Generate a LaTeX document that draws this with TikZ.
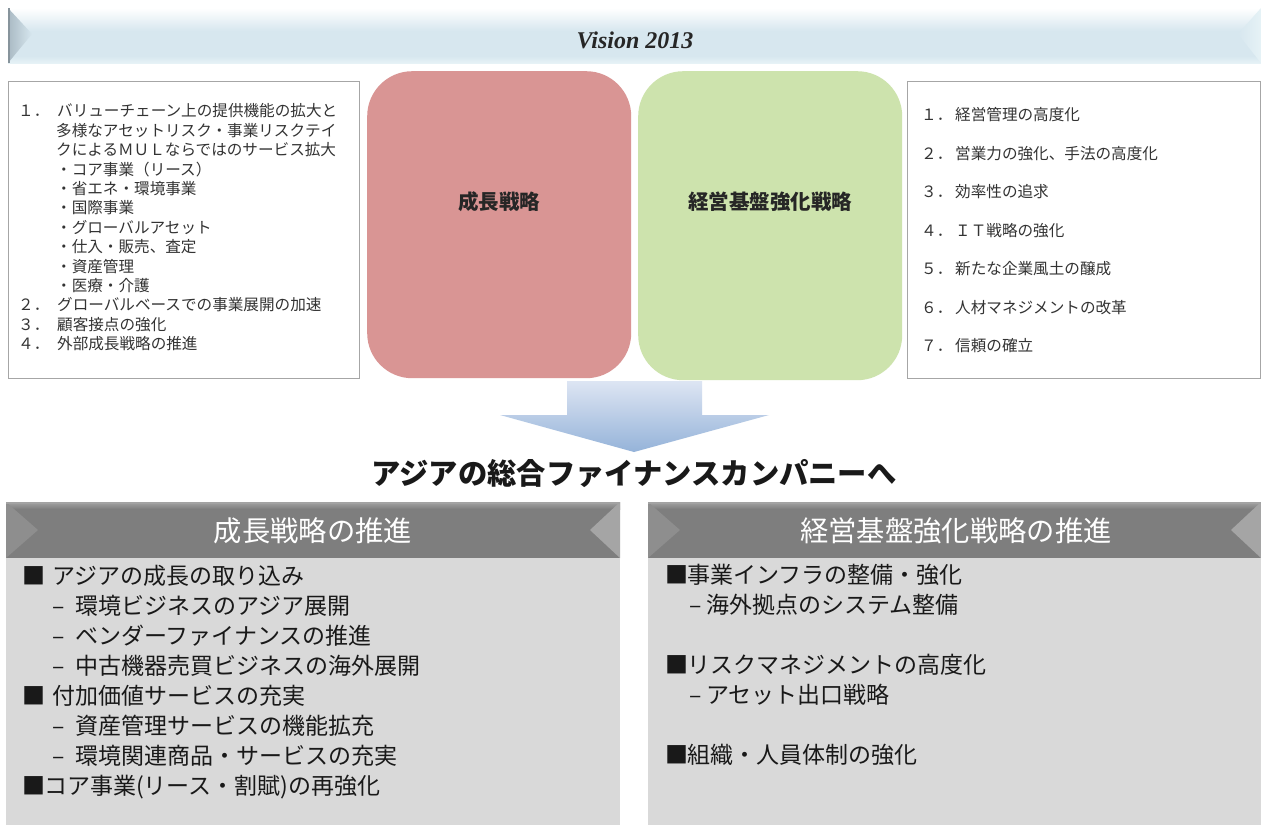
\documentclass[tikz,border=0pt]{standalone}
\usepackage{fontspec}
\setmainfont{Noto Sans CJK JP}
\newfontfamily\visfont{Liberation Serif}
\definecolor{bannerblue}{HTML}{D7E7EF}
\definecolor{bannerdark}{HTML}{A9B9C3}
\definecolor{bannerlight}{HTML}{E6F2F6}
\definecolor{redbox}{HTML}{D99594}
\definecolor{greenbox}{HTML}{CDE3AD}
\definecolor{boxborder}{HTML}{A6A6A6}
\definecolor{txtgray}{HTML}{333333}
\definecolor{arrowtop}{HTML}{DDE5F3}
\definecolor{arrowbot}{HTML}{95B3D9}
\definecolor{hdrgray}{HTML}{7E7E7E}
\definecolor{hdrlight}{HTML}{A3A3A3}
\definecolor{panelgray}{HTML}{D9D9D9}
\newcommand{\numA}[1]{\makebox[39pt][l]{#1}}
\newcommand{\indA}{\hspace*{38pt}}
\newcommand{\numB}[1]{\makebox[34pt][l]{#1}}
\newcommand{\sqA}{\makebox[30pt][l]{■}}
\newcommand{\sqB}{\makebox[22pt][l]{■}}
\newcommand{\dashA}{\hspace*{30pt}\makebox[23pt][l]{–}}
\newcommand{\dashB}{\hspace*{24pt}\makebox[17pt][l]{–}}
\begin{document}
\begin{tikzpicture}[x=1pt,y=-1pt,
  line/.style={anchor=west, inner sep=0pt, text height=0.88em, text depth=0.12em},
  topline/.style={line, font=\fontsize{15.6}{18}\selectfont, text=txtgray},
  botline/.style={line, font=\fontsize{23}{28}\selectfont, text=black!90},
  textbox/.style={draw=boxborder, line width=1.2pt, fill=white, anchor=north west, inner sep=0pt},
  stratbox/.style={rounded corners=45pt, anchor=north west, inner sep=0pt},
  strattext/.style={font=\fontsize{20.5}{24}\selectfont\bfseries, text=black!85},
  hdrtext/.style={font=\fontsize{28.3}{32}\selectfont, text=white},
  panel/.style={fill=panelgray, draw=none, anchor=north west, inner sep=0pt}]
\useasboundingbox (0,0) rectangle (1261,825);
\fill[white] (0,0) rectangle (1261,825);

% banner
\fill[bannerblue] (8,8) rectangle (1261,63);
\shade[top color=white, bottom color=bannerblue] (8,8) rectangle (1261,31);
\shade[top color=bannerblue, bottom color=bannerlight] (8,56) rectangle (1261,63);
\shade[left color=bannerdark, right color=bannerblue] (8,8) -- (32,34) -- (8,63) -- cycle;
\fill[bannerdark!80!black] (8,8) rectangle (10,63);
\shade[right color=bannerlight, left color=bannerblue] (1261,8) -- (1238,34) -- (1261,63) -- cycle;
\node[font=\visfont\fontsize{24}{28}\selectfont\bfseries\itshape, text=black!85] (vision) at (635,40) {Vision 2013};

% top boxes
\node[textbox, minimum width=351pt, minimum height=297pt] (lbox) at (8,81) {};
\node[textbox, minimum width=353pt, minimum height=297pt] (rbox) at (907,81) {};
\node[stratbox, fill=redbox, minimum width=264pt, minimum height=307pt] (growth) at (367,71) {};
\node[stratbox, fill=greenbox, minimum width=264pt, minimum height=309pt] (base) at (638,71) {};
\node[strattext] (growthT) at (499,202) {成長戦略};
\node[strattext] (baseT) at (770,202) {経営基盤強化戦略};

\foreach \t [count=\i] in {
 {\numA{１．}バリューチェーン上の提供機能の拡大と},
 {\indA 多様なアセットリスク・事業リスクテイ},
 {\indA クによるＭＵＬならではのサービス拡大},
 {\indA ・コア事業（リース）},
 {\indA ・省エネ・環境事業},
 {\indA ・国際事業},
 {\indA ・グローバルアセット},
 {\indA ・仕入・販売、査定},
 {\indA ・資産管理},
 {\indA ・医療・介護},
 {\numA{２．}グローバルベースでの事業展開の加速},
 {\numA{３．}顧客接点の強化},
 {\numA{４．}外部成長戦略の推進}}
 \node[topline] (L\i) at (18,{113+(\i-1)*19.4}) {\t};

\foreach \t [count=\i] in {
 {\numB{１．}経営管理の高度化},
 {\numB{２．}営業力の強化、手法の高度化},
 {\numB{３．}効率性の追求},
 {\numB{４．}ＩＴ戦略の強化},
 {\numB{５．}新たな企業風土の醸成},
 {\numB{６．}人材マネジメントの改革},
 {\numB{７．}信頼の確立}}
 \node[topline] (R\i) at (921,{117+(\i-1)*38.5}) {\t};

% arrow
\shade[top color=arrowtop, bottom color=arrowbot]
  (567,381) -- (702,381) -- (702,415) -- (769,415) -- (634,452) -- (500,415) -- (567,415) -- cycle;

\node[font=\fontsize{29.3}{34}\selectfont\bfseries, text=black!90] (goal) at (634,474) {アジアの総合ファイナンスカンパニーへ};

% bottom headers and panels
\foreach \xa/\xb in {6/620, 648/1261}{
  \fill[hdrgray] (\xa,502) rectangle (\xb,558);
  \shade[top color=hdrlight, bottom color=hdrgray] (\xa,502) rectangle (\xb,509);
  \fill[hdrgray!88!white] (\xa,502) -- ({\xa+32},530) -- (\xa,558) -- cycle;
  \fill[hdrgray!70!white] (\xb,502) -- ({\xb-30},530) -- (\xb,558) -- cycle;
  \fill[hdrlight] (\xa,502) rectangle (\xb,503.5);
}
\node[panel, minimum width=614pt, minimum height=267pt] (lpanel) at (6,558) {};
\node[panel, minimum width=613pt, minimum height=267pt] (rpanel) at (648,558) {};
\node[hdrtext] (lhdr) at (313,531) {成長戦略の推進};
\node[hdrtext] (rhdr) at (956,531) {経営基盤強化戦略の推進};

\foreach \t [count=\i] in {
 {\sqA アジアの成長の取り込み},
 {\dashA 環境ビジネスのアジア展開},
 {\dashA ベンダーファイナンスの推進},
 {\dashA 中古機器売買ビジネスの海外展開},
 {\sqA 付加価値サービスの充実},
 {\dashA 資産管理サービスの機能拡充},
 {\dashA 環境関連商品・サービスの充実},
 {\sqB コア事業(リース・割賦)の再強化}}
 \node[botline] (B\i) at (22,{581+(\i-1)*30}) {\t};

\node[botline] (C1) at (665,580) {\sqB 事業インフラの整備・強化};
\node[botline] (C2) at (665,610) {\dashB 海外拠点のシステム整備};
\node[botline] (C3) at (665,670) {\sqB リスクマネジメントの高度化};
\node[botline] (C4) at (665,700) {\dashB アセット出口戦略};
\node[botline] (C5) at (665,760) {\sqB 組織・人員体制の強化};
\end{tikzpicture}
\end{document}
